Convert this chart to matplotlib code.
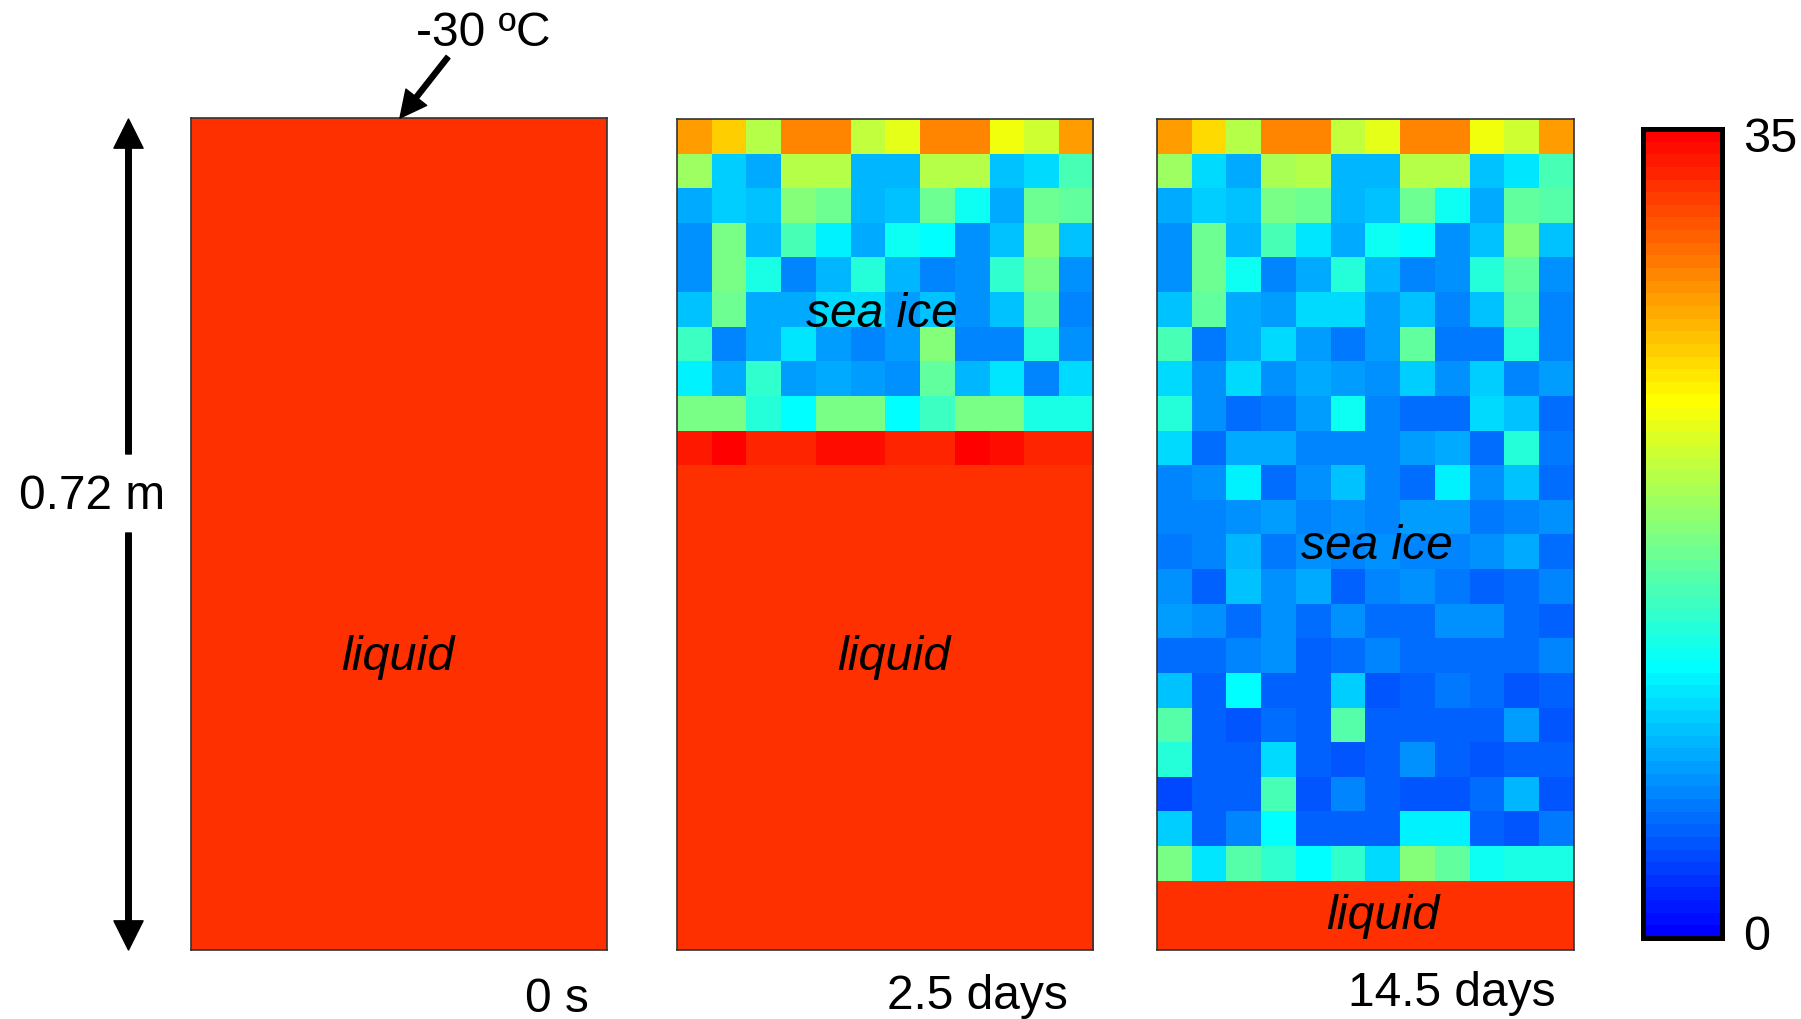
import matplotlib

matplotlib.use("Agg")
import matplotlib.pyplot as plt
from matplotlib.colors import LinearSegmentedColormap
from matplotlib.transforms import ScaledTranslation

plt.rcParams["font.family"] = ["Liberation Sans", "DejaVu Sans"]

WIDTH, HEIGHT = 1801, 1020

# salinity per cell, top row first
LIQUID_ROW = [32.7, 32.7, 32.7, 32.7, 32.7, 32.7, 32.7, 32.7, 32.7, 32.7, 32.7, 32.7]

salinity_0s = [LIQUID_ROW] * 24

salinity_2_5d = [
    [27.8, 25.5, 20.0, 28.9, 28.9, 20.4, 22.0, 28.7, 28.7, 22.7, 21.0, 27.8],
    [18.9, 9.8, 8.0, 19.7, 19.7, 8.4, 8.4, 19.7, 19.7, 8.8, 10.3, 15.0],
    [8.2, 9.5, 8.8, 17.5, 16.8, 8.4, 8.8, 16.5, 12.5, 7.8, 16.8, 16.0],
    [7.0, 17.2, 8.5, 15.2, 11.0, 8.2, 12.5, 11.7, 6.8, 9.0, 18.2, 8.8],
    [6.8, 17.2, 12.8, 6.3, 8.3, 13.5, 8.5, 6.5, 6.7, 14.0, 17.0, 6.8],
    [9.2, 16.5, 7.8, 7.8, 10.0, 10.0, 7.2, 9.0, 6.7, 9.0, 16.0, 6.3],
    [14.5, 6.3, 8.2, 10.5, 7.2, 6.2, 7.4, 17.5, 6.3, 6.2, 13.5, 7.0],
    [11.0, 8.2, 14.0, 7.2, 7.8, 7.6, 6.9, 16.0, 8.6, 10.6, 6.3, 10.0],
    [17.2, 17.2, 13.6, 11.8, 17.0, 17.0, 11.6, 14.5, 17.0, 17.0, 13.0, 13.0],
    [33.8, 34.6, 33.0, 33.0, 34.0, 34.0, 33.0, 32.9, 34.8, 34.2, 33.0, 33.0],
] + [LIQUID_ROW] * 14

salinity_14_5d = [
    [27.8, 25.0, 20.0, 28.9, 28.8, 20.4, 22.0, 28.7, 28.7, 22.7, 21.0, 27.8],
    [18.9, 10.0, 8.0, 19.5, 19.8, 8.4, 8.4, 19.7, 19.7, 8.8, 10.4, 15.0],
    [8.2, 9.4, 8.8, 17.4, 16.7, 8.4, 8.8, 16.5, 12.3, 7.7, 16.3, 15.8],
    [7.0, 16.8, 8.5, 15.0, 10.8, 8.0, 12.2, 11.7, 6.8, 8.8, 17.8, 8.8],
    [6.8, 16.8, 12.3, 6.3, 8.0, 13.2, 8.5, 6.5, 6.7, 13.4, 16.3, 6.7],
    [8.9, 16.2, 7.8, 7.6, 10.2, 10.2, 7.2, 9.0, 6.5, 9.0, 15.8, 6.5],
    [14.8, 5.9, 7.8, 10.3, 7.2, 5.9, 7.2, 15.9, 5.8, 5.6, 13.2, 6.5],
    [10.0, 6.8, 10.3, 6.7, 7.8, 7.2, 6.8, 9.6, 6.8, 9.6, 6.1, 7.6],
    [13.4, 6.8, 5.0, 5.8, 7.2, 12.2, 6.5, 5.0, 5.2, 10.0, 8.8, 5.0],
    [10.3, 5.2, 7.8, 7.8, 6.3, 6.3, 6.5, 7.4, 7.7, 5.3, 13.4, 5.9],
    [6.1, 6.7, 11.2, 5.2, 6.7, 8.8, 6.5, 5.4, 11.0, 6.7, 9.0, 5.2],
    [6.1, 6.5, 7.0, 7.4, 6.5, 6.7, 6.1, 7.4, 7.4, 5.6, 6.5, 6.8],
    [5.8, 6.1, 8.6, 5.8, 6.7, 6.5, 6.7, 6.3, 6.5, 6.7, 8.0, 5.1],
    [6.8, 4.9, 8.8, 6.7, 8.0, 4.9, 6.5, 6.7, 5.8, 4.9, 5.4, 6.3],
    [7.6, 6.7, 5.4, 6.8, 5.4, 7.1, 5.4, 5.0, 7.0, 7.0, 5.0, 4.4],
    [5.4, 5.4, 6.5, 6.6, 4.4, 5.4, 6.5, 5.4, 5.2, 5.2, 5.4, 6.3],
    [9.2, 4.5, 11.8, 4.4, 4.4, 9.3, 4.1, 4.8, 5.9, 5.0, 4.3, 4.8],
    [15.6, 4.6, 4.2, 5.0, 4.4, 15.6, 4.4, 4.4, 4.4, 4.8, 7.2, 4.0],
    [13.6, 4.5, 4.5, 10.0, 4.5, 3.9, 4.4, 6.7, 4.8, 4.3, 4.8, 4.5],
    [3.6, 4.8, 4.5, 15.0, 4.0, 6.5, 4.8, 4.3, 4.3, 5.2, 8.6, 4.3],
    [9.6, 4.8, 6.3, 11.6, 4.4, 4.5, 4.5, 11.2, 11.2, 4.7, 3.9, 5.9],
    [17.2, 10.8, 15.6, 13.8, 11.7, 14.0, 10.3, 18.0, 16.0, 12.3, 12.6, 12.6],
] + [LIQUID_ROW] * 2

colorbar_ticks = [0, 35]
colorbar_labels = ["0", "35"]


def pixel_rect(left, top, right, bottom):
    return [left / WIDTH, 1 - bottom / HEIGHT, (right - left) / WIDTH, (bottom - top) / HEIGHT]


cmap = LinearSegmentedColormap.from_list(
    "salinity", ["#0000ff", "#00ffff", "#ffff00", "#ff0000"], N=64
)

fig = plt.figure(figsize=(WIDTH / 100, HEIGHT / 100), dpi=100)

panels = [
    (salinity_0s, (191, 119, 607, 951)),
    (salinity_2_5d, (677, 120, 1093, 951)),
    (salinity_14_5d, (1157, 120, 1574, 951)),
]
for data, box in panels:
    ax = fig.add_axes(pixel_rect(*box))
    im = ax.imshow(data, cmap=cmap, vmin=0, vmax=35, aspect="auto", interpolation="nearest")
    ax.set_xticks([])
    ax.set_yticks([])
    for spine in ax.spines.values():
        spine.set_linewidth(1.2)
        spine.set_color("#333333")

cax = fig.add_axes(pixel_rect(1643, 130, 1722, 939))
cbar = fig.colorbar(im, cax=cax)
cbar.set_ticks(colorbar_ticks, labels=colorbar_labels)
cbar.ax.tick_params(length=0, pad=15, labelsize=35)
cbar.outline.set_linewidth(3.6)
cbar.outline.set_edgecolor("black")
# the end labels sit just inside the bar ends
low, high = cbar.ax.get_yticklabels()
low.set_transform(low.get_transform() + ScaledTranslation(0, 5 / 72, fig.dpi_scale_trans))
high.set_transform(high.get_transform() + ScaledTranslation(0, -3 / 72, fig.dpi_scale_trans))

# overlay in pixel coordinates for the hand-placed labels and arrows
overlay = fig.add_axes([0, 0, 1, 1])
overlay.set_xlim(0, WIDTH)
overlay.set_ylim(HEIGHT, 0)
overlay.axis("off")
overlay.patch.set_alpha(0)

arrow_style = dict(facecolor="black", edgecolor="black", width=4, headwidth=21, headlength=21, shrink=0)
overlay.annotate("", xy=(128.5, 120), xytext=(128.5, 455), arrowprops=arrow_style)
overlay.annotate("", xy=(128.5, 951), xytext=(128.5, 534), arrowprops=arrow_style)
overlay.annotate(
    "",
    xy=(400, 119),
    xytext=(448, 58),
    arrowprops=dict(facecolor="black", edgecolor="black", width=3.6, headwidth=19, headlength=19, shrink=0),
)

overlay.text(92, 497, "0.72 m", fontsize=34.5, ha="center", va="center")
overlay.text(483, 33, "-30 ºC", fontsize=34.5, ha="center", va="center")

overlay.text(398, 658, "liquid", fontsize=35, style="italic", ha="center", va="center")
overlay.text(894, 658, "liquid", fontsize=35, style="italic", ha="center", va="center")
overlay.text(1383, 917, "liquid", fontsize=35, style="italic", ha="center", va="center")
overlay.text(882, 315, "sea ice", fontsize=34.5, style="italic", ha="center", va="center")
overlay.text(1377, 547, "sea ice", fontsize=34.5, style="italic", ha="center", va="center")

overlay.text(557, 1000, "0 s", fontsize=34.5, ha="center", va="center")
overlay.text(977, 997, "2.5 days", fontsize=34.5, ha="center", va="center")
overlay.text(1452, 994, "14.5 days", fontsize=34.5, ha="center", va="center")

fig.savefig("out.png", dpi=100)
